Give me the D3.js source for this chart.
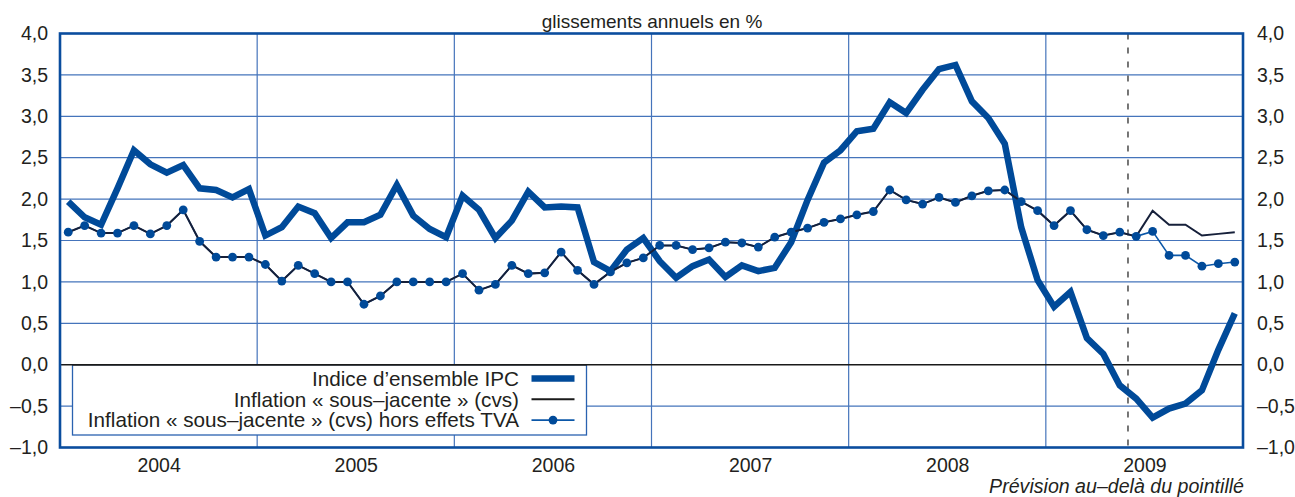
<!DOCTYPE html>
<html><head><meta charset="utf-8">
<script src="https://cdn.jsdelivr.net/npm/d3@7"></script>
<style>
body{margin:0;background:#fff}
svg{display:block}
text{font-family:"Liberation Sans",Arial,Helvetica,sans-serif;fill:#231f20}
</style>
</head><body>
<svg id="c" width="1295" height="497"></svg>
<script>
// ---------- data ----------
const years = ["2004","2005","2006","2007","2008","2009"];
const monthsPerYear = 12;
// Indice d'ensemble IPC (glissement annuel, %)
const ipc = [
  1.97,1.78,1.69,2.13,2.59,2.42,2.32,2.41,2.13,2.11,2.02,2.12,
  1.56,1.66,1.91,1.83,1.53,1.72,1.72,1.81,2.17,1.80,1.64,1.54,
  2.04,1.87,1.53,1.74,2.09,1.90,1.91,1.90,1.24,1.13,1.39,1.53,
  1.25,1.05,1.19,1.27,1.06,1.20,1.13,1.17,1.48,1.99,2.44,2.59,
  2.82,2.85,3.17,3.04,3.32,3.57,3.62,3.18,2.98,2.67,1.66,1.02,
  0.70,0.88,0.32,0.13,-0.25,-0.41,-0.64,-0.53,-0.47,-0.31,0.18,0.62
];
// Inflation « sous-jacente » (cvs)
const sousJacente = [
  1.60,1.68,1.59,1.59,1.68,1.58,1.68,1.87,1.49,1.30,1.30,1.30,
  1.21,1.01,1.20,1.10,1.00,1.00,0.73,0.83,1.00,1.00,1.00,1.00,
  1.10,0.90,0.97,1.20,1.10,1.11,1.36,1.14,0.97,1.12,1.23,1.29,
  1.44,1.44,1.39,1.41,1.48,1.47,1.42,1.54,1.60,1.65,1.72,1.76,
  1.81,1.85,2.11,1.99,1.94,2.02,1.96,2.04,2.10,2.11,1.97,1.86,
  1.68,1.86,1.63,1.56,1.60,1.55,1.86,1.69,1.69,1.56,1.58,1.60
];
// Inflation « sous-jacente » (cvs) hors effets TVA
const horsTVA = [
  1.60,1.68,1.59,1.59,1.68,1.58,1.68,1.87,1.49,1.30,1.30,1.30,
  1.21,1.01,1.20,1.10,1.00,1.00,0.73,0.83,1.00,1.00,1.00,1.00,
  1.10,0.90,0.97,1.20,1.10,1.11,1.36,1.14,0.97,1.12,1.23,1.29,
  1.44,1.44,1.39,1.41,1.48,1.47,1.42,1.54,1.60,1.65,1.72,1.76,
  1.81,1.85,2.11,1.99,1.94,2.02,1.96,2.04,2.10,2.11,1.97,1.86,
  1.68,1.86,1.63,1.56,1.60,1.55,1.61,1.32,1.32,1.19,1.22,1.24
];
const yTicks = [-1,-0.5,0,0.5,1,1.5,2,2.5,3,3.5,4];
const forecastStart = 65; // boundary (in months from Jan 2004) of the dotted line
const legendLabels = [
  "Indice d\u2019ensemble IPC",
  "Inflation \u00ab sous\u2013jacente \u00bb (cvs)",
  "Inflation \u00ab sous\u2013jacente \u00bb (cvs) hors effets TVA"
];
const titleText = "glissements annuels en %";
const noteText = "Pr\u00e9vision au\u2013del\u00e0 du pointill\u00e9";

// ---------- layout ----------
const L = 60, R = 1243, T = 33.5, B = 447.5;
const nMonths = years.length * monthsPerYear;
const BLUE = "#004a99", GRID = "#4574bb", FRAME = "#0a4d9e";

const svg = d3.select("#c");
const x = d3.scaleLinear().domain([0, nMonths]).range([L, R]);
const y = d3.scaleLinear().domain([-1, 4]).range([B, T]);
const xm = i => x(i + 0.5);

// grid
const g = svg.append("g");
g.selectAll("line.h").data(yTicks.filter(v => v !== 0 && v !== -1 && v !== 4)).join("line")
  .attr("x1", L).attr("x2", R).attr("y1", d => y(d)).attr("y2", d => y(d))
  .attr("stroke", GRID).attr("stroke-width", 1.2);
g.selectAll("line.v").data(d3.range(1, years.length)).join("line")
  .attr("x1", d => x(d * monthsPerYear)).attr("x2", d => x(d * monthsPerYear))
  .attr("y1", T).attr("y2", B)
  .attr("stroke", GRID).attr("stroke-width", 1.2);

// legend box (covers grid)
const lg = svg.append("g");
lg.append("rect").attr("x", 72.5).attr("y", y(0)).attr("width", 514).attr("height", 435 - y(0))
  .attr("fill", "#fff").attr("stroke", "#2a62b0").attr("stroke-width", 1.3);

// zero line
svg.append("line").attr("x1", L).attr("x2", R).attr("y1", y(0)).attr("y2", y(0))
  .attr("stroke", "#1a1a1a").attr("stroke-width", 1.6);

// forecast dashed line
svg.append("line").attr("x1", x(forecastStart)).attr("x2", x(forecastStart))
  .attr("y1", T).attr("y2", B)
  .attr("stroke", "#555").attr("stroke-width", 1.6).attr("stroke-dasharray", "6,8");

// series
const line = d3.line().x((d, i) => xm(i)).y(d => y(d));
svg.append("path").datum(ipc).attr("d", line)
  .attr("fill", "none").attr("stroke", BLUE).attr("stroke-width", 6.5)
  .attr("stroke-linejoin", "miter").attr("stroke-miterlimit", 3);
svg.append("path").datum(horsTVA).attr("d", line)
  .attr("fill", "none").attr("stroke", "#0b57a8").attr("stroke-width", 1.6);
svg.append("path").datum(sousJacente).attr("d", line)
  .attr("fill", "none").attr("stroke", "#16203a").attr("stroke-width", 2);
svg.append("g").selectAll("circle").data(horsTVA).join("circle")
  .attr("cx", (d, i) => xm(i)).attr("cy", d => y(d)).attr("r", 4.4)
  .attr("fill", BLUE);

// frame
svg.append("rect").attr("x", L).attr("y", T).attr("width", R - L).attr("height", B - T)
  .attr("fill", "none").attr("stroke", FRAME).attr("stroke-width", 2.6);

// axes
const fmt = v => d3.format(".1f")(v).replace(".", ",").replace("-", "\u2013").replace("\u2212", "\u2013");
const ax = svg.append("g").attr("transform", `translate(${L},0)`)
  .call(d3.axisLeft(y).tickValues(yTicks).tickSize(0).tickPadding(12).tickFormat(fmt));
const axR = svg.append("g").attr("transform", `translate(${R},0)`)
  .call(d3.axisRight(y).tickValues(yTicks).tickSize(0).tickPadding(14).tickFormat(fmt));
const axB = svg.append("g").attr("transform", `translate(0,${B})`)
  .call(d3.axisBottom(x).tickValues(years.map((d, i) => i * monthsPerYear + monthsPerYear / 2))
    .tickSize(0).tickPadding(10.5).tickFormat((d, i) => years[i]));
[ax, axR, axB].forEach(a => {
  a.select(".domain").remove();
  a.selectAll("text").attr("font-size", 19.5).attr("font-family", null).attr("fill", "#231f20");
});

// title & note
svg.append("text").attr("x", 652).attr("y", 28).attr("text-anchor", "middle")
  .attr("font-size", 19).text(titleText);
svg.append("text").attr("x", 1244).attr("y", 492.8).attr("text-anchor", "end")
  .attr("font-size", 19.6).attr("font-style", "italic").text(noteText);

// legend entries
const rows = [385.7, 406.5, 427.3];
legendLabels.forEach((t, i) => {
  lg.append("text").attr("x", 519).attr("y", rows[i]).attr("text-anchor", "end")
    .attr("font-size", 20.7).text(t);
});
const sx1 = 531.5, sx2 = 574.5, cy = rows.map(r => r - 7.2);
lg.append("line").attr("x1", sx1).attr("x2", sx2).attr("y1", cy[0]).attr("y2", cy[0])
  .attr("stroke", BLUE).attr("stroke-width", 6.5);
lg.append("line").attr("x1", sx1).attr("x2", sx2).attr("y1", cy[1]).attr("y2", cy[1])
  .attr("stroke", "#1a1a1a").attr("stroke-width", 2);
lg.append("line").attr("x1", sx1).attr("x2", sx2).attr("y1", cy[2]).attr("y2", cy[2])
  .attr("stroke", "#0b57a8").attr("stroke-width", 1.6);
lg.append("circle").attr("cx", (sx1 + sx2) / 2).attr("cy", cy[2]).attr("r", 4.4).attr("fill", BLUE);
// legend top edge under zero line
svg.append("line").attr("x1", 72.5).attr("x2", 586.5).attr("y1", y(0)).attr("y2", y(0))
  .attr("stroke", "#1a1a1a").attr("stroke-width", 1.6);
</script>
</body></html>
